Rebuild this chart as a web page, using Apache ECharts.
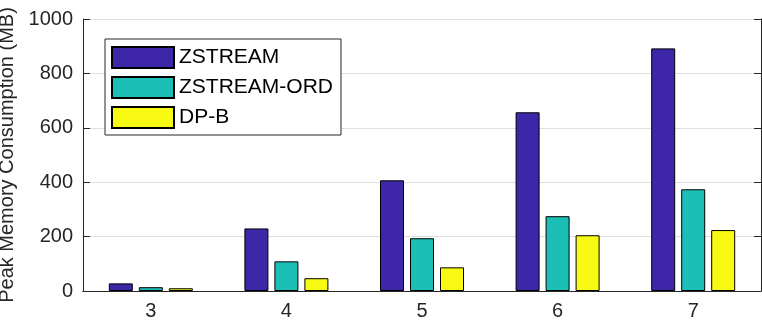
<!DOCTYPE html>
<html>
<head>
<meta charset="utf-8">
<script src="https://cdn.jsdelivr.net/npm/echarts@6/dist/echarts.min.js"></script>
<style>
    html, body { margin: 0; padding: 0; background: #fff; }
    #chart { width: 762px; height: 322px; }
</style>
</head>
<body>
<div id="chart"></div>
<script>
// data
var categories = ['3', '4', '5', '6', '7'];
var zstream = [28, 230, 407, 657, 892];
var zstreamOrd = [14, 109, 194, 275, 374];
var dpB = [10, 47, 87, 205, 224];
var yTicks = { min: 0, max: 1000, interval: 200 };

var axisColor = '#262626';
var font = "'Liberation Sans', Arial, sans-serif";

function barSeries(name, data, color) {
    return {
        name: name,
        type: 'bar',
        data: data,
        barWidth: 24,
        barGap: '25%',
        itemStyle: { color: color, borderColor: '#000', borderWidth: 1 },
        z: 2
    };
}

var myChart = echarts.init(document.getElementById('chart'));
myChart.setOption({
    animation: false,
    textStyle: { fontFamily: font },
    grid: { left: 83, right: 1, top: 19, bottom: 31, outerBoundsMode: 'none' },
    legend: {
        orient: 'vertical',
        left: 105,
        top: 39,
        padding: [7, 8, 6, 6],
        itemWidth: 62,
        itemHeight: 21,
        itemGap: 7,
        borderColor: axisColor,
        borderWidth: 1,
        backgroundColor: '#fff',
        icon: 'rect',
        textStyle: { fontSize: 21, color: '#000', fontFamily: font },
        data: ['ZSTREAM', 'ZSTREAM-ORD', 'DP-B']
    },
    xAxis: [
        {
            type: 'category',
            data: categories,
            z: 3,
            axisLine: { lineStyle: { color: axisColor, width: 1 } },
            axisTick: { inside: true, alignWithLabel: true, length: 7, lineStyle: { color: axisColor } },
            axisLabel: { fontSize: 20, color: axisColor, margin: 10 }
        },
        {
            type: 'category',
            data: categories,
            position: 'top',
            z: 3,
            axisLine: { lineStyle: { color: axisColor, width: 1 } },
            axisTick: { inside: true, alignWithLabel: true, length: 7, lineStyle: { color: axisColor } },
            axisLabel: { show: false }
        }
    ],
    yAxis: [
        {
            type: 'value',
            min: yTicks.min,
            max: yTicks.max,
            interval: yTicks.interval,
            name: 'Peak Memory Consumption (MB)',
            nameLocation: 'middle',
            nameGap: 65,
            nameTextStyle: { fontSize: 20, color: axisColor, fontFamily: font },
            axisLine: { show: true, lineStyle: { color: axisColor, width: 1 } },
            axisTick: { show: true, inside: true, length: 7, lineStyle: { color: axisColor } },
            axisLabel: { fontSize: 20, color: axisColor, margin: 10, formatter: function (v) { return String(v); } },
            splitLine: { show: true, lineStyle: { color: '#dfdfdf', width: 1 } }
        },
        {
            type: 'value',
            position: 'right',
            min: yTicks.min,
            max: yTicks.max,
            interval: yTicks.interval,
            axisLine: { show: true, lineStyle: { color: axisColor, width: 1 } },
            axisTick: { show: true, inside: true, length: 7, lineStyle: { color: axisColor } },
            axisLabel: { show: false },
            splitLine: { show: false }
        }
    ],
    series: [
        barSeries('ZSTREAM', zstream, '#3e26a8'),
        barSeries('ZSTREAM-ORD', zstreamOrd, '#1bbfb5'),
        barSeries('DP-B', dpB, '#f9fa14')
    ]
});
</script>
</body>
</html>
